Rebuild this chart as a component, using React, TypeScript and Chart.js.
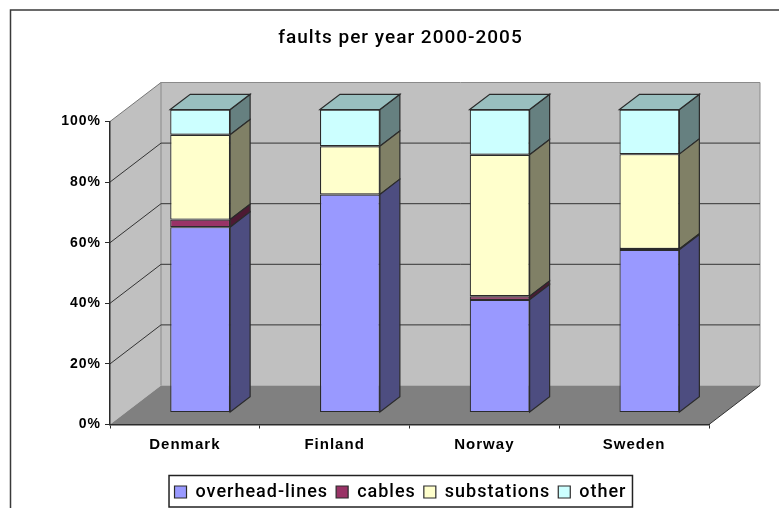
import React, { useEffect, useRef } from "react";
import { Chart, registerables } from "chart.js";

Chart.register(...registerables);

const categories = ["Denmark", "Finland", "Norway", "Sweden"];
const overheadLines = [61.2, 72, 37.2, 53.7];
const cables = [2.5, 0, 1.2, 0.3];
const substations = [28, 15.9, 46.7, 31.3];
const other = [8.3, 12.1, 14.9, 14.7];
const seriesNames = ["overhead-lines", "cables", "substations", "other"];
const frontColors = ["#9999FF", "#993366", "#FFFFCC", "#CCFFFF"];
const sideColors = ["#4D4D80", "#4D1A33", "#808066", "#668080"];
const topColor = "#99BFBF";
const yTicks = [0, 20, 40, 60, 80, 100];

const LINE = "#2b2b2b";
const WALL_DX = 51;
const WALL_DY = -39;
const BAR_OFFSET_X = 15.3;
const BAR_OFFSET_Y = -11.9;
const BAR_DX = 20;
const BAR_DY = -15.3;
const FONT = "'Liberation Sans', Arial, sans-serif";
const FONT_MEDIUM = "Roboto, 'Liberation Sans', Arial, sans-serif";

function poly(ctx: CanvasRenderingContext2D, pts: number[][], fill?: string, stroke?: string, lw = 1) {
  ctx.beginPath();
  pts.forEach((p, i) => (i ? ctx.lineTo(p[0], p[1]) : ctx.moveTo(p[0], p[1])));
  ctx.closePath();
  if (fill) {
    ctx.fillStyle = fill;
    ctx.fill();
  }
  if (stroke) {
    ctx.strokeStyle = stroke;
    ctx.lineWidth = lw;
    ctx.stroke();
  }
}

const scenePlugin = {
  id: "scene3d",
  beforeLayout(chart: any) {
    chart.ctx.letterSpacing = "1px";
  },
  beforeDraw(chart: any) {
    const { ctx, chartArea: a, scales } = chart;
    const y = scales.y;
    const l = a.left, r = a.right, t = a.top, b = a.bottom;
    ctx.save();
    ctx.fillStyle = "#ffffff";
    ctx.fillRect(0, 0, chart.width, chart.height);
    ctx.strokeStyle = "#3a3a3a";
    ctx.lineWidth = 1.5;
    ctx.beginPath();
    ctx.moveTo(10.5, chart.height);
    ctx.lineTo(10.5, 10);
    ctx.lineTo(chart.width, 10);
    ctx.stroke();
    poly(ctx, [[l, t], [l + WALL_DX, t + WALL_DY], [l + WALL_DX, b + WALL_DY], [l, b]], "#C0C0C0");
    poly(ctx, [[l + WALL_DX, t + WALL_DY], [r + WALL_DX, t + WALL_DY], [r + WALL_DX, b + WALL_DY], [l + WALL_DX, b + WALL_DY]], "#C0C0C0");
    ctx.strokeStyle = "#8a8a8a";
    ctx.lineWidth = 1;
    ctx.beginPath();
    ctx.moveTo(l + WALL_DX, b + WALL_DY);
    ctx.lineTo(l + WALL_DX, t + WALL_DY);
    ctx.lineTo(r + WALL_DX, t + WALL_DY);
    ctx.lineTo(r + WALL_DX, b + WALL_DY);
    ctx.stroke();
    poly(ctx, [[l, b], [l + WALL_DX, b + WALL_DY], [r + WALL_DX, b + WALL_DY], [r, b]], "#808080");
    ctx.lineWidth = 1;
    yTicks.filter((v) => v > 0).forEach((v) => {
      const py = y.getPixelForValue(v);
      ctx.strokeStyle = v === 100 ? "#777777" : "#333333";
      ctx.beginPath();
      ctx.moveTo(l, py);
      ctx.lineTo(l + WALL_DX, py + WALL_DY);
      if (v < 100) ctx.lineTo(r + WALL_DX, py + WALL_DY);
      ctx.stroke();
    });
    ctx.strokeStyle = "#333333";
    ctx.beginPath();
    ctx.moveTo(r, b);
    ctx.lineTo(r + WALL_DX, b + WALL_DY);
    ctx.stroke();
    ctx.restore();
  },
  beforeDatasetDraw(chart: any) {
    const ctx = chart.ctx;
    ctx.save();
    ctx.translate(BAR_OFFSET_X, BAR_OFFSET_Y);
  },
  afterDatasetDraw(chart: any, args: any) {
    const ctx = chart.ctx;
    const last = chart.data.datasets.length - 1;
    args.meta.data.forEach((bar: any, i: number) => {
      if (!chart.data.datasets[args.index].data[i]) return;
      const p = bar.getProps(["x", "y", "base", "width"], true);
      const right = p.x + p.width / 2;
      const left = p.x - p.width / 2;
      poly(
        ctx,
        [[right, p.y], [right + BAR_DX, p.y + BAR_DY], [right + BAR_DX, p.base + BAR_DY], [right, p.base]],
        sideColors[args.index],
        LINE,
        1.2
      );
      if (args.index === last) {
        poly(ctx, [[left, p.y], [left + BAR_DX, p.y + BAR_DY], [right + BAR_DX, p.y + BAR_DY], [right, p.y]], topColor, LINE, 1.2);
      }
    });
    ctx.restore();
  },
  afterDraw(chart: any) {
    const { ctx, legend } = chart;
    const boxes = legend.legendHitBoxes;
    if (!boxes || !boxes.length) return;
    const left = Math.min(...boxes.map((h: any) => h.left)) - 5.5;
    const right = Math.max(...boxes.map((h: any) => h.left + h.width)) + 6;
    ctx.save();
    ctx.strokeStyle = "#222222";
    ctx.lineWidth = 1.5;
    ctx.strokeRect(left, 475.5, right - left, 31.5);
    ctx.restore();
  },
};

export default function App() {
  const ref = useRef<HTMLCanvasElement | null>(null);
  useEffect(() => {
    const series = [overheadLines, cables, substations, other];
    const chart = new Chart(ref.current as HTMLCanvasElement, {
      type: "bar",
      data: {
        labels: categories,
        datasets: series.map((data, i) => ({
          label: seriesNames[i],
          data,
          backgroundColor: frontColors[i],
          borderColor: LINE,
          borderWidth: 1.2,
          borderSkipped: false,
          barPercentage: 0.4,
          categoryPercentage: 1,
          clip: false as any,
        })),
      },
      options: {
        animation: false,
        responsive: false,
        layout: { autoPadding: false, padding: { left: 92, right: 70, top: 0, bottom: -3 } },
        plugins: {
          title: {
            display: true,
            text: "faults per year 2000-2005",
            color: "#000000",
            font: { family: FONT_MEDIUM, size: 19, weight: "500" },
            padding: { top: 27, bottom: 71.7 },
          },
          legend: {
            display: true,
            position: "bottom",
            labels: {
              color: "#000000",
              font: { family: FONT_MEDIUM, size: 18, weight: "500" },
              boxWidth: 12,
              boxHeight: 12,
              padding: 8,
            },
          },
          tooltip: { enabled: false },
        },
        scales: {
          x: {
            stacked: true,
            afterFit: (s: any) => {
              s.height = 50.5;
            },
            grid: {
              offset: true,
              drawOnChartArea: false,
              drawTicks: true,
              tickLength: 4,
              color: LINE,
            },
            border: { display: true, color: LINE, width: 1.5 },
            ticks: {
              color: "#000000",
              padding: 7,
              font: { family: FONT, size: 15, weight: "bold" },
              maxRotation: 0,
            },
          },
          y: {
            stacked: true,
            min: 0,
            max: 100,
            afterFit: (s: any) => {
              s.width = 18;
              s._computeLabelArea = () => undefined;
            },
            afterBuildTicks: (s: any) => {
              s.ticks = yTicks.map((value) => ({ value }));
            },
            grid: { drawOnChartArea: false, drawTicks: true, tickLength: 5, color: LINE },
            border: { display: true, color: LINE, width: 1.5 },
            ticks: {
              color: "#000000",
              padding: 4,
              font: { family: FONT, size: 14, weight: "bold" },
              callback: (v: any) => `${v}%`,
            },
          },
        },
      } as any,
      plugins: [scenePlugin as any],
    });
    return () => chart.destroy();
  }, []);
  return (
    <div style={{ position: "fixed", left: 0, top: 0, width: 779, height: 508 }}>
      <canvas ref={ref} width={779} height={508} style={{ display: "block" }} />
    </div>
  );
}
